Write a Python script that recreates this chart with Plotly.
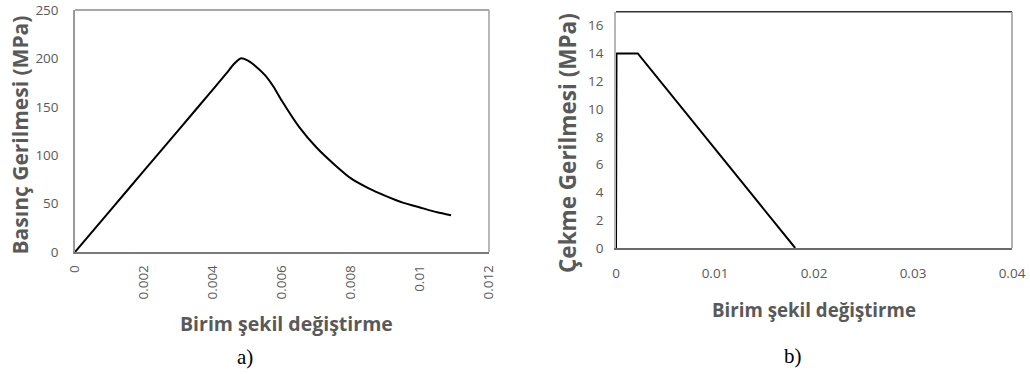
import plotly.graph_objects as go

# Panel a) compressive stress-strain
comp_strain = [0, 0.001, 0.002, 0.003, 0.004, 0.0044, 0.0046, 0.0048, 0.005, 0.0052,
               0.0055, 0.00575, 0.006, 0.0065, 0.007, 0.0075, 0.008, 0.0085, 0.009,
               0.0095, 0.010, 0.0105, 0.0109]
comp_stress = [0, 42, 84, 126, 168, 185, 194, 200, 198, 193,
               183, 171, 156, 129, 108, 91, 76, 66, 58, 51, 46, 41, 38]

# Panel b) tensile stress-strain
ten_strain = [0, 0.00005, 0.0022, 0.0181]
ten_stress = [0, 14, 14, 0]

a_xticks = [0, 0.002, 0.004, 0.006, 0.008, 0.01, 0.012]
a_xticklabels = ["0", "0.002", "0.004", "0.006", "0.008", "0.01", "0.012"]
a_yticks = [0, 50, 100, 150, 200, 250]
b_xticks = [0, 0.01, 0.02, 0.03, 0.04]
b_xticklabels = ["0", "0.01", "0.02", "0.03", "0.04"]
b_yticks = [0, 2, 4, 6, 8, 10, 12, 14, 16]

W, H = 1030, 374


def px(X):
    return X / W


def py(Y):
    return 1 - Y / H


TICKFONT = dict(family="Open Sans", size=13.5, color="#595959")
LABELFONT = dict(family="Liberation Serif", size=21, color="black")


def tfont(size):
    return dict(family="Open Sans", size=size, color="#595959")


fig = go.Figure()
fig.add_trace(go.Scatter(x=comp_strain, y=comp_stress, mode="lines",
                         line=dict(color="black", width=2, shape="spline", smoothing=0.6),
                         xaxis="x", yaxis="y", showlegend=False, cliponaxis=False))
fig.add_trace(go.Scatter(x=ten_strain, y=ten_stress, mode="lines",
                         line=dict(color="black", width=2),
                         xaxis="x2", yaxis="y2", showlegend=False, cliponaxis=False))

ax_a = [px(75), px(489)]
ay_a = [py(252), py(10)]
ax_b = [px(616), px(1012)]
ay_b = [py(248), py(11.7)]

common = dict(showgrid=False, zeroline=False, showline=True, ticks="",
              automargin=False, linewidth=1.5, tickfont=TICKFONT,
              ticklabeloverflow="allow")

fig.update_layout(
    template="none",
    width=W, height=H,
    margin=dict(l=0, r=0, t=0, b=0, autoexpand=False),
    paper_bgcolor="white", plot_bgcolor="white",
    xaxis=dict(domain=ax_a, range=[0, 0.012], tickvals=a_xticks, ticktext=a_xticklabels,
               tickangle=-90, linecolor="#7a7a7a", anchor="y", ticklabelstandoff=6,
               **common),
    yaxis=dict(domain=ay_a, range=[0, 250], tickvals=a_yticks, linecolor="#9a9a9a",
               anchor="x", ticklabelstandoff=12, **common),
    xaxis2=dict(domain=ax_b, range=[0, 0.04], tickvals=b_xticks, ticktext=b_xticklabels,
                linecolor="#6a6a6a", anchor="y2", ticklabelstandoff=12, **common),
    yaxis2=dict(domain=ay_b, range=[0, 17], tickvals=b_yticks, linecolor="#b5b5b5",
                anchor="x2", ticklabelstandoff=8, **common),
)

# frame top / right borders
fig.add_shape(type="line", xref="x domain", yref="y domain", x0=0, x1=1, y0=1, y1=1,
              line=dict(color="#8a8a8a", width=1.5))
fig.add_shape(type="line", xref="x domain", yref="y domain", x0=1, x1=1, y0=0, y1=1,
              line=dict(color="#a0a0a0", width=1.5))
fig.add_shape(type="line", xref="x2 domain", yref="y2 domain", x0=0, x1=1, y0=1, y1=1,
              line=dict(color="#333333", width=1.5))
fig.add_shape(type="line", xref="x2 domain", yref="y2 domain", x0=1, x1=1, y0=0, y1=1,
              line=dict(color="#999999", width=1.5))

ann = [
    dict(text="<b>Basınç Gerilmesi (MPa)</b>", x=px(19), y=py(135.5), textangle=-90,
         font=tfont(21)),
    dict(text="<b>Birim şekil değiştirme</b>", x=px(286), y=py(323), font=tfont(19.5)),
    dict(text="a)", x=px(244.5), y=py(357), font=LABELFONT),
    dict(text="<b>Çekme Gerilmesi (MPa)</b>", x=px(567), y=py(143), textangle=-90,
         font=tfont(22.5)),
    dict(text="<b>Birim şekil değiştirme</b>", x=px(814), y=py(309), font=tfont(18.7)),
    dict(text="b)", x=px(793), y=py(356), font=LABELFONT),
]
for a in ann:
    fig.add_annotation(xref="paper", yref="paper", showarrow=False,
                       xanchor="center", yanchor="middle", **a)

fig.write_html("out.html", config={"displayModeBar": False},
               post_script="document.body.style.margin='0';")
